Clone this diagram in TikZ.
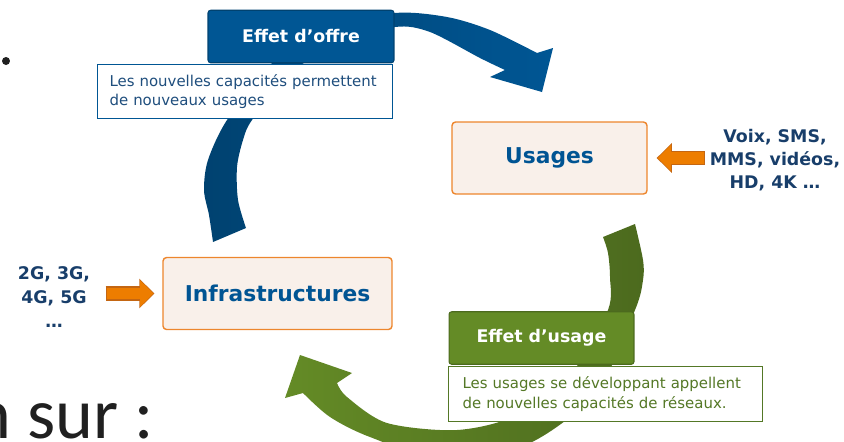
\documentclass[tikz,border=0pt]{standalone}
\usepackage{fontspec}
\setmainfont{DejaVu Sans}
\newfontfamily\slidefont{Carlito}
\usetikzlibrary{arrows.meta}
\definecolor{offreblue}{RGB}{0,86,148}
\definecolor{offredark}{RGB}{0,66,112}
\definecolor{usagegreen}{RGB}{100,139,38}
\definecolor{usagedark}{RGB}{76,106,30}
\definecolor{boxfill}{RGB}{249,240,234}
\definecolor{boxline}{RGB}{237,134,45}
\definecolor{labelblue}{RGB}{24,62,106}
\definecolor{textblue}{RGB}{0,84,147}
\definecolor{descblue}{RGB}{31,78,125}
\definecolor{descgreen}{RGB}{84,120,38}
\definecolor{arroworange}{RGB}{237,125,0}
\definecolor{arrowedge}{RGB}{196,102,18}
\definecolor{slidegray}{RGB}{32,32,32}

\begin{document}
\begin{tikzpicture}[x=0.02cm,y=-0.02cm]

    \tikzset{
      mainbox/.style={
        draw=boxline,
        fill=boxfill,
        line width=0.8pt,
        rounded corners=2pt,
        text=textblue,
        font=\fontsize{12.4}{15}\selectfont\bfseries,
        minimum height=1.44cm,
      },
      headbox/.style={
        line width=0.6pt,
        rounded corners=1.5pt,
        text=white,
        font=\fontsize{9.9}{12}\selectfont\bfseries,
        minimum height=1.05cm,
      },
      descbox/.style={
        fill=white,
        line width=0.7pt,
        anchor=north west,
        align=left,
        font=\fontsize{8.5}{11.3}\selectfont,
      },
      sidelabel/.style={
        text=labelblue,
        align=center,
        font=\fontsize{9.9}{13}\selectfont\bfseries,
      },
      blockedge/.style={line width=8.2pt,draw=arrowedge,-{Triangle[length=8.6pt,width=16.4pt]}},
      blockarrow/.style={line width=6.8pt,draw=arroworange,-{Triangle[length=7.6pt,width=14.6pt]}},
    }
    \useasboundingbox (0,0) rectangle (844,441);
    \clip (0,0) rectangle (844,441);

	\node[circle,fill=slidegray,minimum size=0.16cm,inner sep=0pt] (bullet) at (6,61) {};
	\node[anchor=base west,inner sep=0pt,text=slidegray,font=\slidefont\fontsize{41}{48}\selectfont] (sur) at (-27,438) {n sur :};

	\shade[left color=offredark,right color=offreblue] plot[smooth] coordinates {(213,242) (209,215) (204,190) (208,160) (227,120) (270,65) (327,28) (395,13) (447,17) (490,30) (537,53)} -- (553,48) -- (542,92) -- (490,77) -- plot[smooth] coordinates {(505,70) (480,58) (430,32) (395,27) (337,44) (288,75) (252,120) (243,140) (237,167) (238,200) (246,228)} -- cycle;
	\shade[left color=usagegreen,right color=usagedark] plot[smooth] coordinates {(635,224) (643,260) (643,280) (635,310) (597,391) (530,443) (447,461) (370,437) (330,417) (303,393)} -- (285,398) -- (300,355) -- (352,373) -- plot[smooth] coordinates {(337,383) (347,397) (387,423) (457,430) (517,415) (573,371) (608,310) (610,277) (608,253) (603,237)} -- cycle;

	\node[mainbox,minimum width=3.9cm] (usages) at (549.5,158) {Usages};
	\node[mainbox,minimum width=4.58cm] (infra) at (277.5,293.5) {Infrastructures};

	\node[headbox,fill=offreblue,draw=offredark,minimum width=3.72cm] (offre) at (301,36.5) {Effet d’offre};
	\node[descbox,draw=offreblue,text=descblue,text width=5.42cm,inner xsep=0.24cm,minimum height=1.08cm] (offretxt) at (97,64) {Les nouvelles capacités permettent\\de nouveaux usages};
	\node[headbox,fill=usagegreen,draw=usagedark,minimum width=3.7cm] (usage) at (541.5,338) {Effet d’usage};
	\node[descbox,draw=descgreen,text=descgreen,text width=5.72cm,inner xsep=0.28cm,minimum height=1.1cm] (usagetxt) at (448,366) {Les usages se développant appellent\\de nouvelles capacités de réseaux.};

	\node[sidelabel] (voix) at (775,160) {Voix, SMS,\\MMS, vidéos,\\HD, 4K …};
	\node[sidelabel,font=\fontsize{9.9}{13.6}\selectfont\bfseries] (gen) at (54,297) {2G, 3G,\\4G, 5G\\…};

	\draw[blockedge,shorten <=5.4pt,shorten >=4.5pt] (gen.east |- infra.west) -- (infra.west);
	\draw[blockarrow,shorten <=6pt,shorten >=5.1pt] (gen.east |- infra.west) -- (infra.west);
	\draw[blockedge,shorten <=-0.6pt,shorten >=5.1pt] (voix.west |- usages.east) -- (usages.east);
	\draw[blockarrow,shorten <=0pt,shorten >=5.7pt] (voix.west |- usages.east) -- (usages.east);

\end{tikzpicture}
\end{document}
